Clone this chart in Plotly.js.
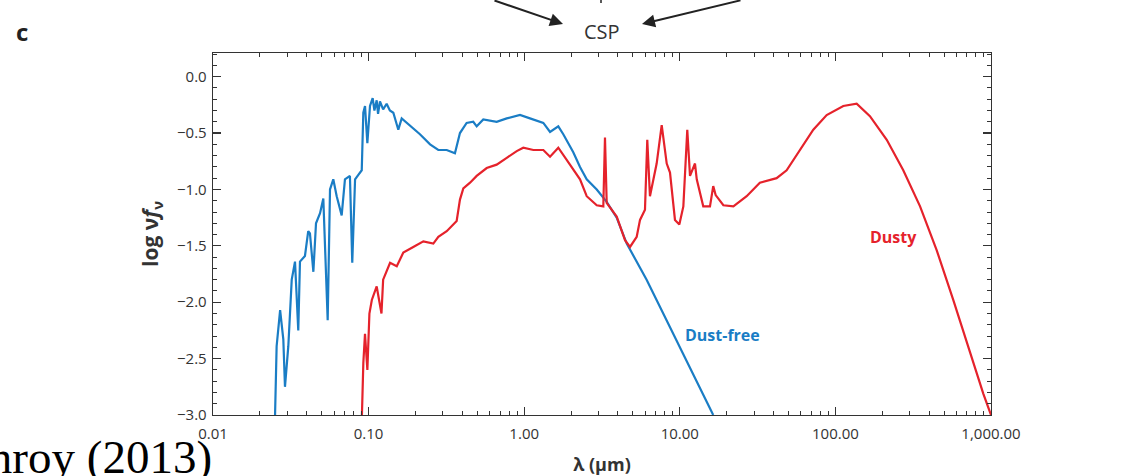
<!DOCTYPE html>
<html>
<head>
<meta charset="utf-8">
<script src="https://cdn.plot.ly/plotly-3.0.1.min.js"></script>
<style>html,body{margin:0;padding:0;background:#fff;}#chart{width:1140px;height:476px;}</style>
</head>
<body>
<div id="chart"></div>
<script>
// Dust-free CSP spectrum: wavelength (um) and log(nu f_nu)
const lamDustFree = [0.0250, 0.02564, 0.0270, 0.02831, 0.02901, 0.03048, 0.03206, 0.03365, 0.03532, 0.03622,
  0.03899, 0.04093, 0.04198, 0.04416, 0.04592, 0.04875, 0.05117, 0.05458, 0.05649, 0.05930,
  0.06237, 0.06714, 0.07047, 0.07586, 0.07852, 0.08185, 0.08590, 0.09036, 0.09247, 0.09484,
  0.09817, 0.1021, 0.1062, 0.1090, 0.1127, 0.1150, 0.1183, 0.1240, 0.1306, 0.1370, 0.1442, 0.1552, 0.1632, 0.1845,
  0.2138, 0.2483, 0.2806, 0.3177, 0.3589, 0.3865, 0.4266, 0.4706, 0.4950, 0.5458,
  0.6653, 0.7724, 0.9397, 1.089, 1.327, 1.466, 1.656, 1.783, 2.067, 2.284,
  2.522, 2.925, 3.390, 3.930, 4.56, 6.12, 7.83, 10.0, 12.85, 16.4];
const logDustFree = [-3.05, -2.39, -2.07, -2.33, -2.75, -2.39, -1.80, -1.64, -2.25, -1.64,
  -1.59, -1.37, -1.39, -1.73, -1.30, -1.21, -1.08, -2.16, -1.00, -0.91,
  -1.06, -1.23, -0.91, -0.88, -1.65, -0.91, -0.87, -0.83, -0.32, -0.26,
  -0.59, -0.26, -0.19, -0.30, -0.21, -0.33, -0.22, -0.29, -0.24, -0.30, -0.32, -0.47, -0.37, -0.43,
  -0.51, -0.60, -0.65, -0.65, -0.68, -0.50, -0.41, -0.40, -0.44, -0.38,
  -0.40, -0.37, -0.34, -0.37, -0.41, -0.49, -0.44, -0.51, -0.67, -0.80,
  -0.91, -1.00, -1.11, -1.25, -1.48, -1.80, -2.10, -2.39, -2.69, -3.0];

// Dusty CSP spectrum
const lamDusty = [0.0904, 0.0925, 0.0948, 0.0982, 0.1012, 0.1049, 0.1127, 0.1210, 0.1240, 0.1374,
  0.1517, 0.1671, 0.1937, 0.2248, 0.2606, 0.2806, 0.3177, 0.3681, 0.3865, 0.4062,
  0.4487, 0.4950, 0.5741, 0.6653, 0.7724, 0.8952, 0.9868, 1.145, 1.327, 1.466,
  1.656, 1.783, 1.968, 2.284, 2.522, 2.925, 3.224, 3.305, 3.390, 3.930,
  4.446, 4.786, 5.285, 5.551, 5.973, 6.18, 6.43, 7.10, 7.65, 8.24,
  8.65, 9.31, 9.93, 10.54, 11.17, 11.63, 12.52, 12.85, 14.15, 15.63,
  16.4, 17.0, 19.05, 22.1, 26.9, 32.7, 41.9, 48.6, 59.2, 72.1,
  87.9, 112.4, 137, 166.7, 213.8, 273, 350, 448, 572, 733, 892, 1000];
const logDusty = [-3.05, -2.54, -2.28, -2.60, -2.10, -1.98, -1.86, -2.10, -1.80, -1.65,
  -1.68, -1.56, -1.51, -1.46, -1.48, -1.42, -1.37, -1.28, -1.09, -0.99,
  -0.94, -0.88, -0.81, -0.78, -0.72, -0.66, -0.63, -0.65, -0.65, -0.71,
  -0.63, -0.69, -0.78, -0.91, -1.06, -1.14, -1.15, -0.54, -1.12, -1.24,
  -1.45, -1.51, -1.42, -1.27, -1.18, -0.56, -1.06, -0.77, -0.43, -0.77,
  -0.85, -1.27, -1.31, -1.15, -0.47, -0.88, -0.77, -0.91, -1.15, -1.15,
  -0.97, -1.05, -1.14, -1.15, -1.06, -0.94, -0.90, -0.83, -0.65, -0.47,
  -0.34, -0.26, -0.24, -0.35, -0.56, -0.83, -1.15, -1.54, -1.98, -2.45, -2.81, -3.0];

// Axis ticks
const xTickVals = [0.01, 0.1, 1, 10, 100, 1000];
const xTickText = ["0.01", "0.10", "1.00", "10.00", "100.00", "1,000.00"];
const yTickVals = [-3.0, -2.5, -2.0, -1.5, -1.0, -0.5, 0.0];
const yTickText = ["\u22123.0", "\u22122.5", "\u22122.0", "\u22121.5", "\u22121.0", "\u22120.5", "0.0"];

const BLUE = "#1a7dc5";
const RED = "#e5222b";
const INK = "#333333";
const FONT = "'Open Sans', 'Noto Sans', sans-serif";

const xMinor = [];
xTickVals.slice(0, -1).forEach(d => { for (let k = 2; k <= 9; k++) xMinor.push(d * k); });
const yMinor = [];
for (let i = -30; i <= 2; i++) yMinor.push(i / 10);

const L = 213, R = 991, T = 53, B = 415;
const px = v => (v - L) / (R - L);
const py = v => (B - v) / (B - T);

const traces = [
  {x: lamDustFree, y: logDustFree, type: "scatter", mode: "lines", line: {color: BLUE, width: 2.2}, hoverinfo: "skip"},
  {x: lamDusty, y: logDusty, type: "scatter", mode: "lines", line: {color: RED, width: 2.2}, hoverinfo: "skip"}
];

const axisCommon = {
  showline: true, linecolor: INK, linewidth: 1.3, mirror: "ticks",
  ticks: "inside", ticklen: 8, tickwidth: 1.3, tickcolor: INK,
  showgrid: false, zeroline: false,
  tickfont: {family: FONT, size: 15, color: INK}
};

const layout = {
  width: 1140, height: 476,
  margin: {l: L, r: 1140 - R, t: T, b: 476 - B},
  paper_bgcolor: "#ffffff", plot_bgcolor: "#ffffff",
  showlegend: false,
  xaxis: Object.assign({}, axisCommon, {
    type: "log", range: [-2, 3],
    tickmode: "array", tickvals: xTickVals, ticktext: xTickText,
    ticklabelstandoff: 5,
    minor: {tickmode: "array", tickvals: xMinor, ticks: "inside", ticklen: 4, tickwidth: 1, tickcolor: INK},
    title: {text: "<b>\u03bb (\u03bcm)</b>", font: {family: FONT, size: 18, color: INK}, standoff: 18}
  }),
  yaxis: Object.assign({}, axisCommon, {
    range: [-3, 0.21],
    tickmode: "array", tickvals: yTickVals, ticktext: yTickText,
    ticklabelstandoff: 2,
    minor: {tickmode: "array", tickvals: yMinor, ticks: "inside", ticklen: 4, tickwidth: 1, tickcolor: INK},
    title: {text: "<b>log \u03bd<i>f</i><sub>\u03bd</sub></b>", font: {family: FONT, size: 21, color: INK}, standoff: 12}
  }),
  annotations: [
    {xref: "paper", yref: "paper", x: px(22), y: py(31), text: "<b>c</b>", showarrow: false,
     font: {family: FONT, size: 24, color: "#222"}, xanchor: "center", yanchor: "middle"},
    {xref: "paper", yref: "paper", x: px(602), y: py(32), text: "CSP", showarrow: false,
     font: {family: FONT, size: 20, color: INK}, xanchor: "center", yanchor: "middle"},
    {xref: "paper", yref: "paper", x: px(893), y: py(237), text: "<b>Dusty</b>", showarrow: false,
     font: {family: FONT, size: 16, color: RED}, xanchor: "center", yanchor: "middle"},
    {xref: "paper", yref: "paper", x: px(722), y: py(335), text: "<b>Dust-free</b>", showarrow: false,
     font: {family: FONT, size: 16, color: BLUE}, xanchor: "center", yanchor: "middle"},
    {xref: "paper", yref: "paper", x: px(214), y: py(457), text: "Conroy (2013)", showarrow: false,
     font: {family: "'Liberation Serif', 'Times New Roman', serif", size: 47, color: "#000"},
     xanchor: "right", yanchor: "middle"},
    {xref: "paper", yref: "paper", x: px(563), y: py(24), text: "", showarrow: true,
     ax: -70, ay: -28, arrowhead: 2, arrowsize: 1.3, arrowwidth: 2, arrowcolor: "#222"},
    {xref: "paper", yref: "paper", x: px(642), y: py(24), text: "", showarrow: true,
     ax: 100, ay: -28, arrowhead: 2, arrowsize: 1.3, arrowwidth: 2, arrowcolor: "#222"}
  ],
  shapes: [
    {type: "line", xref: "paper", yref: "paper", x0: px(601), x1: px(601), y0: py(-2), y1: py(3),
     line: {color: "#222", width: 1.5}}
  ]
};

Plotly.newPlot("chart", traces, layout, {staticPlot: true, displayModeBar: false});
</script>
</body>
</html>
